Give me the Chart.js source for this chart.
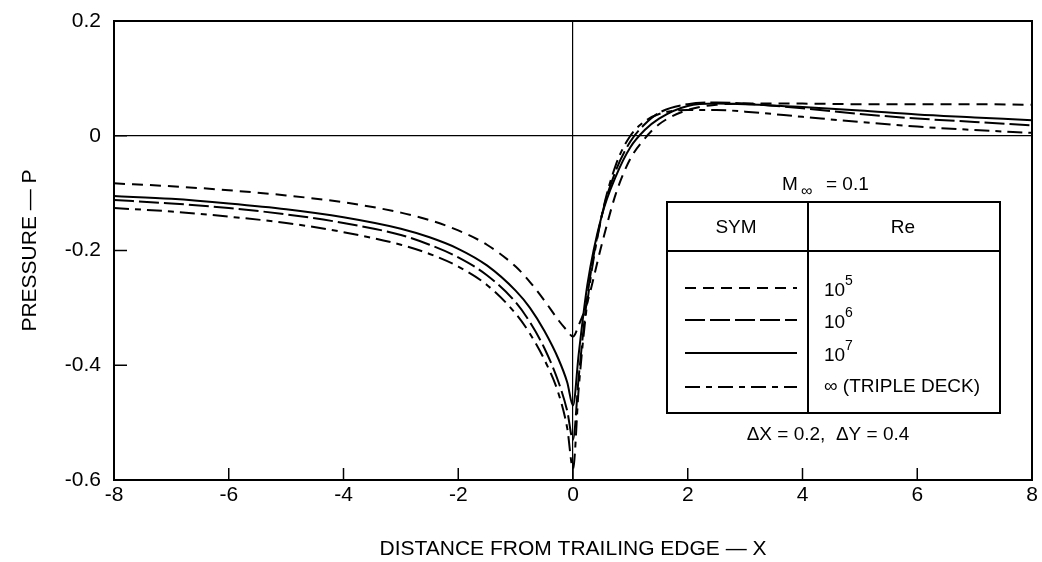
<!DOCTYPE html>
<html>
<head>
<meta charset="utf-8">
<script src="https://cdn.jsdelivr.net/npm/chart.js@4"></script>
<style>
  html, body { margin: 0; padding: 0; background: #fff; }
  #wrap { width: 1042px; height: 562px; }
</style>
</head>
<body>
<div id="wrap"><canvas id="chart"></canvas></div>
<script>
// distancia a partir do bordo de fuga (X)
var xs = [-8, -7, -6, -5, -4, -3, -2.5, -2, -1.5, -1, -0.75, -0.5, -0.25, -0.1, 0,
          0.1, 0.25, 0.5, 0.75, 1, 1.25, 1.5, 2, 2.5, 3, 4, 5, 6, 7, 8];

// pressao P, uma lista por Re
var re5 = [-0.083, -0.088, -0.095, -0.104, -0.116, -0.134, -0.147, -0.165, -0.19, -0.228, -0.255, -0.287, -0.322, -0.34, -0.35,
           -0.33, -0.29, -0.19, -0.1, -0.04, -0.005, 0.02, 0.045, 0.054, 0.056, 0.056, 0.055, 0.055, 0.055, 0.054];
var re7 = [-0.105, -0.11, -0.118, -0.128, -0.142, -0.162, -0.177, -0.197, -0.226, -0.27, -0.3, -0.34, -0.39, -0.43, -0.47,
           -0.38, -0.26, -0.14, -0.07, -0.02, 0.01, 0.03, 0.052, 0.056, 0.055, 0.05, 0.044, 0.037, 0.032, 0.027];
var re6 = [-0.112, -0.118, -0.126, -0.137, -0.152, -0.173, -0.19, -0.212, -0.243, -0.29, -0.325, -0.37, -0.43, -0.48, -0.53,
           -0.42, -0.28, -0.14, -0.06, -0.01, 0.02, 0.04, 0.055, 0.058, 0.056, 0.048, 0.038, 0.03, 0.024, 0.018];
var reInf = [-0.126, -0.132, -0.141, -0.152, -0.168, -0.19, -0.206, -0.228, -0.26, -0.31, -0.345, -0.39, -0.45, -0.51, -0.58,
             -0.44, -0.29, -0.14, -0.05, 0.0, 0.025, 0.038, 0.045, 0.045, 0.042, 0.033, 0.024, 0.016, 0.01, 0.005];

var xTicks = [-8, -6, -4, -2, 0, 2, 4, 6, 8];
var yTicks = [0.2, 0, -0.2, -0.4, -0.6];

var seriesNames = ['10^5', '10^6', '10^7', '∞ (TRIPLE DECK)'];
var dashes = [[11, 7], [20, 5], [], [15, 6, 6, 6]];

var FONT = '"Liberation Sans", Arial, sans-serif';

function pts(ys) {
    return xs.map(function (x, i) { return {x: x, y: ys[i]}; });
}

function mkSet(label, ys, dash) {
    return {
        label: label,
        data: pts(ys),
        borderColor: '#000',
        borderWidth: 2,
        borderDash: dash,
        pointRadius: 0,
        fill: false,
        cubicInterpolationMode: 'monotone'
    };
}

// moldura, tracos internos e a tabela-legenda
var extras = {
    id: 'extras',
    afterDraw: function (chart) {
        var c = chart.ctx, a = chart.chartArea;
        var sx = chart.scales.x, sy = chart.scales.y;
        c.save();
        c.strokeStyle = '#000';
        c.lineWidth = 2;
        c.setLineDash([]);
        c.strokeRect(a.left, a.top, a.right - a.left, a.bottom - a.top);

        c.lineWidth = 1.5;
        xTicks.forEach(function (v) {
            var px = sx.getPixelForValue(v);
            c.beginPath(); c.moveTo(px, a.bottom); c.lineTo(px, a.bottom - 12); c.stroke();
        });
        yTicks.forEach(function (v) {
            var py = sy.getPixelForValue(v);
            c.beginPath(); c.moveTo(a.left, py); c.lineTo(a.left + 13, py); c.stroke();
        });

        // tabela
        var L = 667, R = 1000, T = 202, B = 413, mid = 808, hdr = 251;
        c.fillStyle = '#fff';
        c.fillRect(L, T, R - L, B - T);
        c.lineWidth = 2;
        c.strokeRect(L, T, R - L, B - T);
        c.beginPath(); c.moveTo(mid, T); c.lineTo(mid, B); c.stroke();
        c.beginPath(); c.moveTo(L, hdr); c.lineTo(R, hdr); c.stroke();

        c.fillStyle = '#000';
        c.textBaseline = 'middle';
        c.textAlign = 'center';
        c.font = '19px ' + FONT;
        c.fillText('SYM', 736, 228);
        c.fillText('Re', 903, 228);

        // M infinito
        c.textAlign = 'left';
        c.font = '19px ' + FONT;
        c.fillText('M', 782, 185);
        c.font = '16px ' + FONT;
        c.fillText('∞', 801, 192);
        c.font = '19px ' + FONT;
        c.fillText('= 0.1', 826, 185);

        c.textAlign = 'center';
        c.fillText('\u0394X = 0.2,  \u0394Y = 0.4', 828, 435);

        var rows = [288, 320, 353, 387];
        rows.forEach(function (ry, i) {
            c.setLineDash(dashes[i]);
            c.lineWidth = 2;
            c.beginPath(); c.moveTo(685, ry); c.lineTo(797, ry); c.stroke();
            c.setLineDash([]);
            c.textAlign = 'left';
            if (i < 3) {
                c.font = '19px ' + FONT;
                c.fillText('10', 824, ry + 3);
                c.font = '14px ' + FONT;
                c.fillText(seriesNames[i].split('^')[1], 845, ry - 7);
            } else {
                c.font = '19px ' + FONT;
                c.fillText(seriesNames[i], 824, ry);
            }
        });
        c.restore();
    }
};

var ctx = document.getElementById('chart').getContext('2d');
var chart = new Chart(ctx, {
    type: 'line',
    data: {
        datasets: [
            mkSet(seriesNames[0], re5, dashes[0]),
            mkSet(seriesNames[1], re6, dashes[1]),
            mkSet(seriesNames[2], re7, dashes[2]),
            mkSet(seriesNames[3], reInf, dashes[3])
        ]
    },
    options: {
        responsive: true,
        maintainAspectRatio: false,
        animation: false,
        layout: {padding: {top: 21, right: 10, left: 0, bottom: 0}},
        plugins: {legend: {display: false}, tooltip: {enabled: false}},
        scales: {
            x: {
                type: 'linear',
                min: -8, max: 8,
                afterBuildTicks: function (s) { s.ticks = xTicks.map(function (v) { return {value: v}; }); },
                afterFit: function (s) { s.height = 82; s.paddingLeft = 0; s.paddingRight = 0; },
                grid: {
                    drawTicks: false,
                    color: function (c) { return c.tick && c.tick.value === 0 ? '#000' : 'rgba(0,0,0,0)'; },
                    lineWidth: 1.2
                },
                border: {display: false},
                ticks: {
                    padding: 3,
                    color: '#000',
                    font: {family: FONT, size: 21},
                    maxRotation: 0,
                    callback: function (v) { return String(v); }
                },
                title: {
                    display: true,
                    text: 'DISTANCE FROM TRAILING EDGE \u2014 X',
                    color: '#000',
                    font: {family: FONT, size: 21},
                    padding: {top: 4, bottom: 0}
                }
            },
            y: {
                min: -0.6, max: 0.2,
                afterBuildTicks: function (s) { s.ticks = yTicks.map(function (v) { return {value: v}; }); },
                afterFit: function (s) { s.width = 114; s.paddingTop = 0; s.paddingBottom = 0; },
                grid: {
                    drawTicks: false,
                    color: function (c) { return c.tick && Math.abs(c.tick.value) < 1e-9 ? '#000' : 'rgba(0,0,0,0)'; },
                    lineWidth: 1.2
                },
                border: {display: false},
                ticks: {
                    padding: 13,
                    color: '#000',
                    font: {family: FONT, size: 21},
                    callback: function (v) { var r = Math.round(v * 10) / 10; return r === 0 ? '0' : String(r); }
                },
                title: {
                    display: true,
                    text: 'PRESSURE \u2014 P',
                    color: '#000',
                    font: {family: FONT, size: 21},
                    padding: {top: 18, bottom: 0}
                }
            }
        }
    },
    plugins: [extras]
});
</script>
</body>
</html>
